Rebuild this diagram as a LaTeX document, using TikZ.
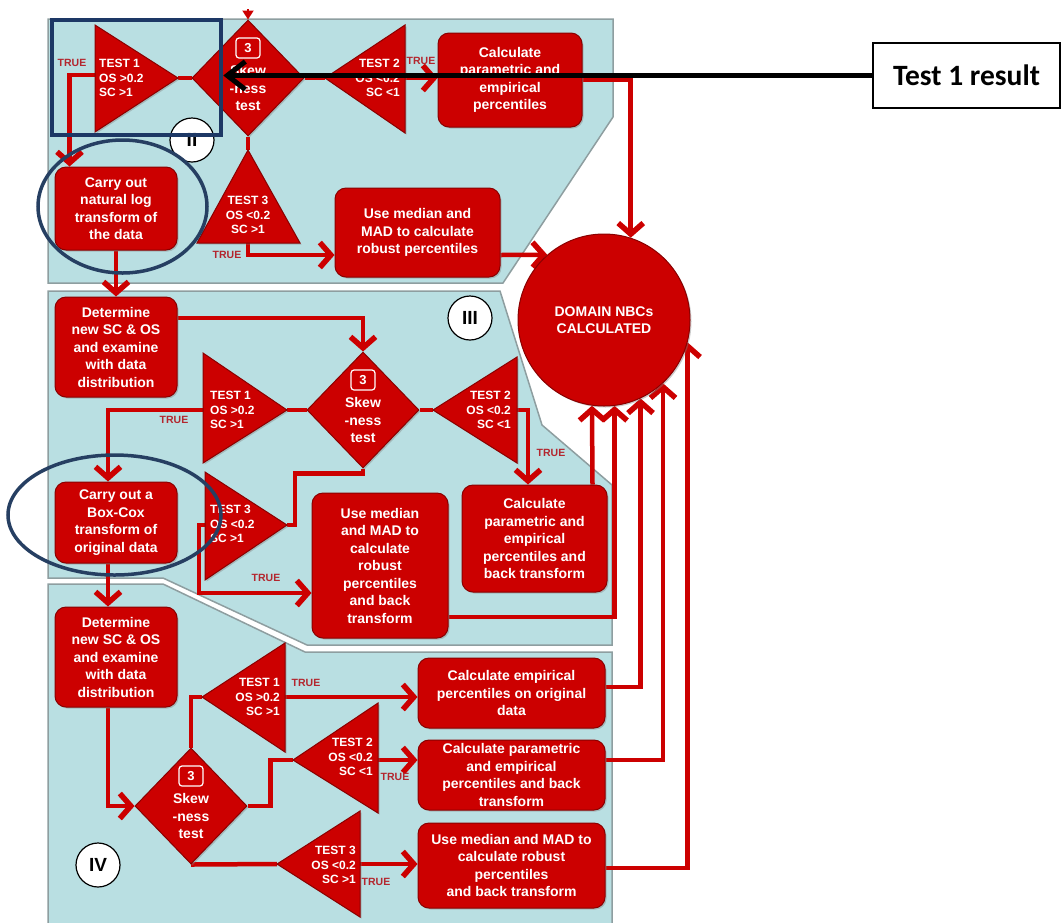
\documentclass[tikz,border=0pt]{standalone}
\usepackage{fontspec}
\setmainfont{Liberation Sans}
\newfontfamily\calloutfont{Carlito}
\usetikzlibrary{arrows.meta,shapes.geometric,shadows,calc}

\definecolor{panelfill}{HTML}{B9DFE2}
\definecolor{paneledge}{HTML}{8E9EA0}
\definecolor{flowred}{HTML}{CC0000}
\definecolor{flowdark}{HTML}{8A0000}
\definecolor{truered}{HTML}{B3262E}
\definecolor{marknavy}{HTML}{1D3865}
\definecolor{markslate}{HTML}{263F62}

\newcommand\fntbox{\fontsize{14}{17.5}\selectfont\bfseries}
\newcommand\fntcirc{\fontsize{14}{17.5}\selectfont\bfseries}
\newcommand\fnttri{\fontsize{12}{14.5}\selectfont\bfseries}
\newcommand\fnttrue{\fontsize{10.5}{12}\selectfont\bfseries}
\newcommand\fntnum{\fontsize{13}{15}\selectfont\bfseries}
\newcommand\fntroman{\fontsize{19}{22}\selectfont\bfseries}
\newcommand\fntcallout{\calloutfont\fontsize{29.5}{32}\selectfont\bfseries}

\pgfdeclarelayer{panels}
\pgfdeclarelayer{links}
\pgfsetlayers{panels,links,main}

\tikzset{
  panel/.style={fill=panelfill, draw=paneledge, line width=1.5pt, line join=miter},
  redfill/.style={fill=flowred, draw=flowdark, line width=1pt,
    drop shadow={shadow xshift=1.5pt, shadow yshift=-1.5pt, opacity=0.4}},
  rbox/.style={redfill, rectangle, rounded corners=11pt, inner sep=0pt, align=center,
    text=white, font=\fntbox},
  dia/.style={redfill, diamond, inner sep=0pt, minimum width=112pt, minimum height=116pt},
  dtext/.style={text=white, font=\fntbox, align=center, inner sep=0pt},
  numbox/.style={draw=white, line width=1.2pt, rounded corners=3pt, fill=flowred, text=white,
    font=\fntnum, minimum width=24pt, minimum height=20pt, inner sep=0pt},
  tri/.style={redfill, line join=miter},
  tritext/.style={text=white, font=\fnttri, inner sep=0pt},
  link/.style={draw=flowred, line width=4.5pt, line join=miter},
  arr/.style={link, -{Straight Barb[length=11pt, width=25pt, line width=5.5pt]}},
  truelbl/.style={text=truered, font=\fnttrue, inner sep=0pt},
  roman/.style={circle, fill=white, draw=black, line width=1.2pt, minimum size=44pt,
    inner sep=0pt, font=\fntroman},
  hilite/.style={draw=marknavy, line width=4.5pt, inner sep=0pt},
  ring/.style={ellipse, draw=markslate, line width=3.5pt, inner sep=0pt},
}

\begin{document}
\begin{tikzpicture}[x=1pt, y=-1pt]
\useasboundingbox (0,0) rectangle (1064,922);

% ---------- background panels ----------
\begin{pgfonlayer}{panels}
  \draw[panel] (48,19) -- (613,19) -- (613,117) -- (503,283) -- (48,283) -- cycle;
  \draw[panel] (48,291) -- (500,291) -- (542,425) -- (612,485) -- (612,645)
               -- (307,645) -- (163,578) -- (48,578) -- cycle;
  \fill[panelfill] (48,584) -- (163,584) -- (305,652) -- (612,652) -- (612,930) -- (48,930) -- cycle;
  \draw[panel, fill=none] (48,930) -- (48,584) -- (163,584) -- (305,652) -- (612,652) -- (612,930);
\end{pgfonlayer}

% ---------- final result ----------
\node[circle, redfill, minimum size=172pt, inner sep=0pt, align=center, text=white,
      font=\fntcirc] (circ) at (604,320) {DOMAIN NBCs\\CALCULATED};

% ---------- section II ----------
\coordinate (entry) at (248,9);
\node[dia] (d2) at (248,78) {};
\node[numbox] at ([yshift=30pt]d2.center) {3};
\node[dtext] at ([yshift=-10pt]d2.center) {Skew\\-ness\\test};

\path[tri] (95,25) -- (178,78) -- (95,132) -- cycle;
\coordinate (tAtip) at (178,78);
\coordinate (tAback) at (95,75);
\node[tritext, anchor=west, align=left] at (99,78) {TEST 1\\OS >0.2\\SC >1};

\path[tri] (405,25) -- (325,78) -- (405,133) -- cycle;
\coordinate (tBtip) at (325,78);
\coordinate (tBback) at (405,78);
\node[tritext, anchor=east, align=right] at (400,78) {TEST 2\\OS <0.2\\SC <1};

\path[tri] (248,150) -- (300,243) -- (197,243) -- cycle;
\coordinate (tCtip) at (248,150);
\coordinate (tCbase) at (248,243);
\node[tritext, align=center] at (248,215) {TEST 3\\OS <0.2\\SC >1};

\node[rbox, minimum width=144pt, minimum height=94pt] (cp2) at (510,80)
  {Calculate\\parametric and\\empirical\\percentiles};
\node[rbox, minimum width=165pt, minimum height=89pt] (um2) at (417.5,232.5)
  {Use median and\\MAD to calculate\\robust percentiles};
\node[rbox, minimum width=122pt, minimum height=83pt] (ln) at (116,208.5)
  {Carry out\\natural log\\transform of\\the data};

\node[truelbl] at (72,63) {TRUE};
\node[truelbl] at (421,61) {TRUE};
\node[truelbl] at (227,255) {TRUE};
\node[roman] (rII) at (192,140) {II};

% ---------- section III ----------
\node[rbox, minimum width=122pt, minimum height=100pt] (dt3) at (116,347)
  {Determine\\new SC \& OS\\and examine\\with data\\distribution};
\node[dia] (d3) at (363,410) {};
\node[numbox] at ([yshift=30pt]d3.center) {3};
\node[dtext] at ([yshift=-10pt]d3.center) {Skew\\-ness\\test};

\path[tri] (203,353) -- (287,410) -- (203,463) -- cycle;
\coordinate (tDtip) at (287,410);
\coordinate (tDback) at (203,410);
\node[tritext, anchor=west, align=left] at (210,410) {TEST 1\\OS >0.2\\SC >1};

\path[tri] (517,357) -- (433,410) -- (517,463) -- cycle;
\coordinate (tEtip) at (433,410);
\coordinate (tEback) at (517,410);
\node[tritext, anchor=east, align=right] at (511,410) {TEST 2\\OS <0.2\\SC <1};

\path[tri] (205,472) -- (287,525) -- (205,580) -- cycle;
\coordinate (tFtip) at (287,525);
\coordinate (tFback) at (205,525);
\node[tritext, anchor=west, align=left] at (210,524) {TEST 3\\OS <0.2\\SC >1};

\node[rbox, minimum width=122pt, minimum height=81pt] (bc) at (116,522.5)
  {Carry out a\\Box-Cox\\transform of\\original data};
\node[rbox, minimum width=136pt, minimum height=145pt] (um3) at (380,565.5)
  {Use median\\and MAD to\\calculate\\robust\\percentiles\\and back\\transform};
\node[rbox, minimum width=145pt, minimum height=107pt] (cp3) at (534.5,538.5)
  {Calculate\\parametric and\\empirical\\percentiles and\\back transform};

\node[truelbl] at (174,420) {TRUE};
\node[truelbl] at (266,578) {TRUE};
\node[truelbl] at (551,453) {TRUE};
\node[roman] (rIII) at (470,318) {III};

% ---------- section IV ----------
\node[rbox, minimum width=122pt, minimum height=100pt] (dt4) at (116,657)
  {Determine\\new SC \& OS\\and examine\\with data\\distribution};
\node[dia] (d4) at (191,806) {};
\node[numbox] at ([yshift=30pt]d4.center) {3};
\node[dtext] at ([yshift=-10pt]d4.center) {Skew\\-ness\\test};

\path[tri] (285,643) -- (202,697) -- (285,752) -- cycle;
\coordinate (tGtip) at (202,697);
\coordinate (tGback) at (285,697);
\node[tritext, anchor=east, align=right] at (280,697) {TEST 1\\OS >0.2\\SC >1};

\path[tri] (378,703) -- (293,760) -- (378,813) -- cycle;
\coordinate (tHtip) at (293,760);
\coordinate (tHback) at (378,760);
\node[tritext, anchor=east, align=right] at (373,757) {TEST 2\\OS <0.2\\SC <1};

\path[tri] (360,811) -- (277,864) -- (360,917) -- cycle;
\coordinate (tItip) at (277,864);
\coordinate (tIback) at (360,864);
\node[tritext, anchor=east, align=right] at (356,865) {TEST 3\\OS <0.2\\SC >1};

\node[rbox, minimum width=187pt, minimum height=70pt] (e1) at (511.5,693)
  {Calculate empirical\\percentiles on original\\data};
\node[rbox, minimum width=187pt, minimum height=70pt] (e2) at (511.5,775)
  {Calculate parametric\\and empirical\\percentiles and back\\transform};
\node[rbox, minimum width=187pt, minimum height=85pt] (e3) at (511.5,865.5)
  {Use median and MAD to\\calculate robust\\percentiles\\and back transform};

\node[truelbl] at (306,683) {TRUE};
\node[truelbl] at (395,777) {TRUE};
\node[truelbl] at (376,882) {TRUE};
\node[roman] (rIV) at (98,865) {IV};

% ---------- connectors ----------
\begin{pgfonlayer}{links}
  % section II
  \draw[link, line width=2pt, -{Triangle[length=9pt,width=11pt]}] (entry) -- (d2.north);
  \draw[link] (tAtip) -- (d2.west);
  \draw[arr] (tAback) -| ([xshift=15pt]ln.north west);
  \draw[link] (d2.south) -- (tCtip);
  \draw[arr] (tCbase) |- ([yshift=-22.5pt]um2.west);
  \draw[link] (d2.east) -- (tBtip);
  \draw[arr] (tBback) -- (tBback -| cp2.west);
  \draw[arr] (cp2.east) -| (circ.72);
  \draw[arr] ([yshift=-22.5pt]um2.east) -- (circ.131);
  \draw[arr] (ln.south) -- (dt3.north);
  % section III
  \draw[arr] ([yshift=29pt]dt3.east) -| (d3.north);
  \draw[link] (tDtip) -- (d3.west);
  \draw[arr] (tDback) -| ([xshift=-8pt]bc.north);
  \draw[link] (d3.south) -- ++(0,5) -| ([xshift=8pt]tFtip) -- (tFtip);
  \draw[arr] (tFback) -- ++(-6,0) |- ([yshift=-27.5pt]um3.west);
  \draw[link] (d3.east) -- (tEtip);
  \draw[arr] (tEback) -| ([xshift=-6.5pt]cp3.north);
  \draw[arr] ([xshift=-15pt]cp3.north east) -- (circ.-98);
  \draw[arr] ([yshift=-51.5pt]um3.east) -| (circ.-83);
  \draw[arr] ([xshift=-8pt]bc.south) -- ([xshift=-8pt]dt4.north);
  % section IV
  \draw[arr] ([xshift=-8pt]dt4.south) |- (d4.west);
  \draw[link] (d4.north) |- (tGtip);
  \draw[arr] (tGback) -- (tGback -| e1.west);
  \draw[link] (d4.east) -- ++(23,0) |- (tHtip);
  \draw[arr] (tHback) -- (tHback -| e2.west);
  \draw[link] (d4.south) -- (tItip);
  \draw[arr] (tIback) -- (tIback -| e3.west);
  \draw[arr] ([yshift=6pt]e1.east) -| (circ.-65);
  \draw[arr] ([yshift=15pt]e2.east) -| (circ.-47);
  \draw[arr] ([yshift=-2.5pt]e3.east) -| (circ.-15);
\end{pgfonlayer}

% ---------- annotations ----------
\node[hilite, minimum width=169pt, minimum height=115pt] (hl) at (136.5,77.5) {};
\node[ring, minimum width=169pt, minimum height=133pt] (ringA) at (122.5,206.5) {};
\node[ring, minimum width=213pt, minimum height=120pt] (ringB) at (114.5,515) {};
\node[draw=black, line width=1.5pt, fill=white, minimum width=187pt, minimum height=65pt,
      inner sep=0pt, font=\fntcallout] (res) at (966.5,75.5) {Test 1 result};
\draw[line width=5pt, -{Straight Barb[length=18pt, width=28pt, line width=5pt]}] (res.west) -- (res.west -| hl.east);
\end{tikzpicture}
\end{document}
